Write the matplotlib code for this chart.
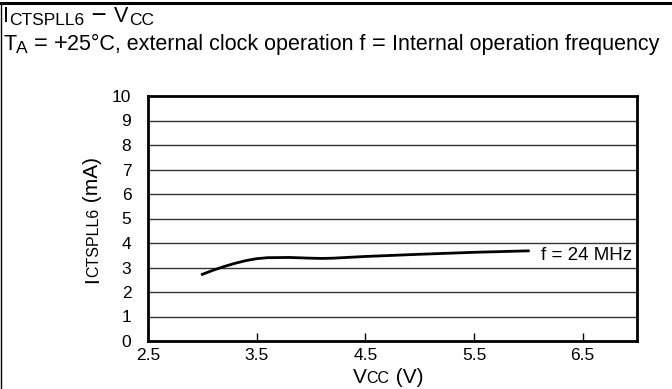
import matplotlib
matplotlib.use('Agg')
import matplotlib.pyplot as plt
from matplotlib.lines import Line2D

plt.rcParams['font.family'] = ['Liberation Sans', 'DejaVu Sans']

# supply current vs. supply voltage, f = 24 MHz
vcc = [3.0, 3.1, 3.2, 3.3, 3.4, 3.5, 3.6, 3.8, 4.0, 4.1, 4.2, 4.5, 5.0, 5.5, 6.0]
icc = [2.72, 2.89, 3.04, 3.17, 3.28, 3.36, 3.4, 3.41, 3.38, 3.37, 3.38, 3.45, 3.54, 3.62, 3.68]
curve_label = 'f = 24 MHz'

x_ticks = [2.5, 3.5, 4.5, 5.5, 6.5]
y_ticks = list(range(0, 11))

fig = plt.figure(figsize=(6.72, 3.89), dpi=100)
W, H = 672, 389

# page frame: top rule and left rule
fig.add_artist(Line2D([0, 1], [1 - 2.5 / H, 1 - 2.5 / H], color='black', lw=2.2))
fig.add_artist(Line2D([0.8 / W, 0.8 / W], [0, 1 - 2.5 / H], color='black', lw=1.0))

ax = fig.add_axes([148 / W, 1 - 341 / H, (637 - 148) / W, (341 - 96) / H])
ax.plot(vcc, icc, color='black', lw=2.0)
ax.text(6.12, 3.5, curve_label, fontsize=13.5, va='center', ha='left')

ax.set_xlim(2.5, 7.0)
ax.set_ylim(0, 10)
ax.set_xticks(x_ticks)
ax.set_yticks(y_ticks)
ax.tick_params(axis='x', direction='in', length=6, width=1, labelsize=12.5, pad=5)
ax.tick_params(axis='y', length=0, labelsize=12.5, pad=12)
for y in y_ticks[1:-1]:
    ax.axhline(y, color='#333333', lw=1.0, zorder=0)
for s in ax.spines.values():
    s.set_linewidth(2.0)

fig.canvas.draw()
r = fig.canvas.get_renderer()


def hrun(parts, x0, y0):
    # left-to-right run of text pieces: (text, size, baseline shift in px)
    x = x0
    for txt, size, dy in parts:
        t = fig.text(x / W, 1 - (y0 + dy) / H, txt, fontsize=size,
                     ha='left', va='baseline')
        x += t.get_window_extent(r).width


def composite(parts, x0, y0, rotation):
    # centred run of text pieces sharing one baseline
    objs = []
    for txt, size in parts:
        t = fig.text(0, 0, txt, fontsize=size, rotation=rotation,
                     ha='left', va='baseline', rotation_mode='anchor')
        objs.append(t)
    lens = []
    for t in objs:
        bb = t.get_window_extent(r)
        lens.append(bb.height if rotation else bb.width)
    pos = -sum(lens) / 2
    for t, l in zip(objs, lens):
        if rotation:
            t.set_position((x0 / W, 1 - (y0 - pos) / H))
        else:
            t.set_position(((x0 + pos) / W, 1 - y0 / H))
        pos += l


hrun([('I', 15.5, 0), ('CTSPLL6', 12.5, 3), (' \u2212 ', 19, 1),
      ('V', 15.5, 0), ('CC', 12.5, 3)], 3, 22)
hrun([('T', 15.5, 0), ('A', 12.5, 3), (' ', 15.5, 0), ('=', 17, 0), (' ', 15.5, 0),
      ('+', 17, 0), ('25°C, external clock operation f ', 15.5, 0),
      ('=', 17, 0), (' Internal operation frequency', 15.5, 0)], 3, 50)

composite([('V', 15), ('CC', 11.5), (' (V)', 15)], 388, 383, 0)
composite([('I', 15), ('CTSPLL6', 11.5), (' (mA)', 15)], 98, 220, 90)

fig.savefig('out.png', dpi=100)
